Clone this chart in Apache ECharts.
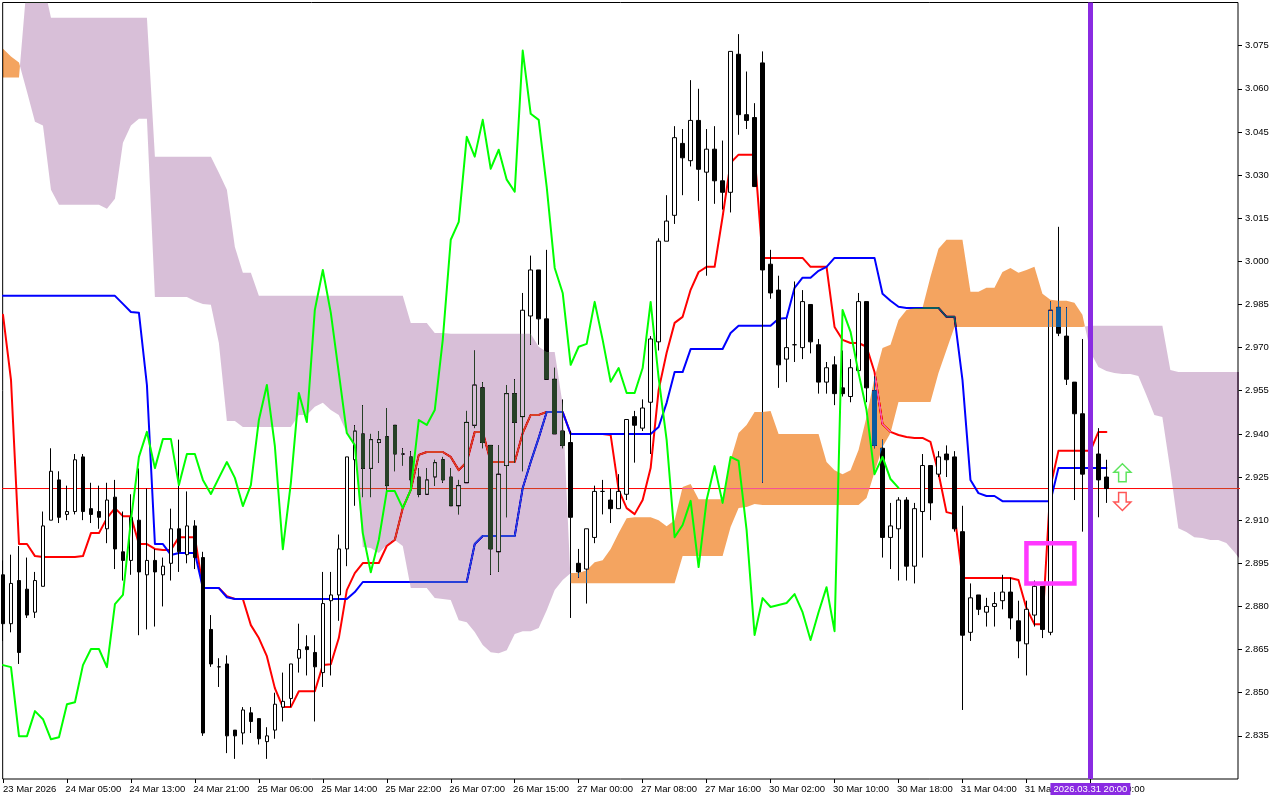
<!DOCTYPE html>
<html>
<head>
<meta charset="utf-8">
<style>html,body{margin:0;padding:0;background:#fff}#c{width:1280px;height:800px}</style>
<script src="https://cdn.jsdelivr.net/npm/echarts@6/dist/echarts.min.js"></script>
</head>
<body>
<div id="c"></div>
<script>
const timeLabels = ['23 Mar 2026','24 Mar 05:00','24 Mar 13:00','24 Mar 21:00','25 Mar 06:00','25 Mar 14:00','25 Mar 22:00','26 Mar 07:00','26 Mar 15:00','27 Mar 00:00','27 Mar 08:00','27 Mar 16:00','30 Mar 02:00','30 Mar 10:00','30 Mar 18:00','31 Mar 04:00','31 Mar 12:00','31 Mar 20:00'];
const labelBars = [0,8,16,24,32,40,48,56,64,72,80,88,96,104,112,120,128,136];
const priceTicks = [2.835,2.85,2.865,2.88,2.895,2.91,2.925,2.94,2.955,2.97,2.985,3,3.015,3.03,3.045,3.06,3.075];
const lastPrice = 2.921;
const markerBar = 136;
const markerLabel = '2026.03.31 20:00';
const boxBars = [128,134];
const boxPrices = [2.902,2.888];
const arrowBar = 140;
const arrowUpPrice = 2.9265;
const arrowDownPrice = 2.9165;

const open = [
2.891,2.874,2.889,2.886,2.878,2.887,2.910,2.924,2.912,2.913,
2.932,2.914,2.913,2.907,2.918,2.899,2.896,2.910,2.891,2.896,
2.891,2.895,2.907,2.898,2.908,2.897,2.872,2.859,2.860,2.837,
2.836,2.843,2.841,2.833,2.837,2.845,2.848,2.862,2.866,2.864,
2.857,2.882,2.884,2.900,2.931,2.940,2.928,2.937,2.939,2.943,
2.933,2.932,2.925,2.919,2.925,2.931,2.925,2.915,2.923,2.943,
2.956,2.936,2.899,2.929,2.954,2.946,2.981,2.997,2.980,2.959,
2.941,2.937,2.895,2.893,2.904,2.920,2.917,2.914,2.919,2.946,
2.942,2.951,2.972,3.007,3.016,3.041,3.035,3.049,3.031,3.039,
3.028,3.024,3.072,3.051,3.050,3.069,2.999,2.990,2.966,2.971,
2.970,2.985,2.971,2.958,2.964,2.956,2.953,2.962,2.986,2.955,
2.935,2.904,2.907,2.917,2.894,2.913,2.929,2.926,2.933,2.932,
2.906,2.871,2.884,2.878,2.880,2.882,2.885,2.875,2.867,2.877,
2.887,2.871,2.984,2.974,2.958,2.947,2.926,2.933,2.925];
const close = [
2.874,2.888,2.864,2.877,2.889,2.908,2.927,2.911,2.913,2.931,
2.913,2.912,2.911,2.917,2.900,2.896,2.911,2.892,2.896,2.892,
2.894,2.907,2.899,2.908,2.897,2.836,2.860,2.859,2.835,2.835,
2.844,2.840,2.834,2.835,2.846,2.847,2.860,2.865,2.865,2.859,
2.881,2.884,2.900,2.932,2.941,2.928,2.938,2.938,2.922,2.933,
2.933,2.924,2.919,2.924,2.930,2.924,2.915,2.922,2.944,2.957,
2.937,2.900,2.926,2.954,2.944,2.983,2.997,2.980,2.959,2.940,
2.936,2.911,2.892,2.907,2.920,2.920,2.914,2.920,2.945,2.943,
2.949,2.973,3.007,3.014,3.043,3.036,3.049,3.032,3.039,3.028,
3.024,3.073,3.051,3.049,3.026,2.997,2.989,2.964,2.970,2.971,
2.986,2.972,2.958,2.963,2.954,2.954,2.963,2.986,2.956,2.936,
2.904,2.908,2.917,2.894,2.914,2.929,2.916,2.932,2.931,2.907,
2.870,2.883,2.879,2.880,2.881,2.885,2.876,2.868,2.879,2.887,
2.872,2.983,2.975,2.959,2.947,2.926,2.932,2.924,2.921];
const low = [
2.868,2.871,2.860,2.876,2.876,2.887,2.910,2.909,2.910,2.912,
2.910,2.909,2.907,2.902,2.893,2.889,2.891,2.870,2.872,2.873,
2.880,2.889,2.892,2.895,2.893,2.835,2.859,2.852,2.829,2.827,
2.832,2.836,2.832,2.827,2.834,2.840,2.845,2.857,2.856,2.840,
2.852,2.856,2.875,2.894,2.915,2.918,2.918,2.930,2.920,2.927,
2.929,2.920,2.918,2.919,2.922,2.923,2.915,2.912,2.923,2.942,
2.935,2.891,2.892,2.911,2.930,2.927,2.971,2.971,2.959,2.940,
2.935,2.876,2.890,2.881,2.902,2.912,2.909,2.914,2.917,2.930,
2.941,2.933,2.969,3.007,3.013,3.023,3.033,3.021,2.995,3.020,
3.018,3.017,3.044,3.046,3.026,2.923,2.987,2.956,2.958,2.965,
2.966,2.968,2.954,2.954,2.950,2.953,2.951,2.962,2.951,2.935,
2.897,2.893,2.889,2.889,2.888,2.897,2.910,2.925,2.925,2.906,
2.844,2.868,2.877,2.873,2.873,2.879,2.872,2.862,2.856,2.873,
2.869,2.870,2.974,2.957,2.917,2.906,2.920,2.911,2.916];
const high = [
2.896,2.898,2.901,2.897,2.892,2.913,2.935,2.927,2.922,2.933,
2.933,2.923,2.922,2.923,2.924,2.913,2.919,2.928,2.921,2.900,
2.897,2.914,2.938,2.920,2.910,2.899,2.877,2.862,2.863,2.837,
2.845,2.845,2.841,2.838,2.850,2.857,2.860,2.874,2.870,2.870,
2.892,2.892,2.905,2.932,2.943,2.950,2.940,2.941,2.949,2.943,
2.935,2.934,2.928,2.928,2.931,2.932,2.928,2.924,2.948,2.969,
2.958,2.936,2.936,2.957,2.959,2.989,3.002,2.997,3.004,2.963,
2.952,2.941,2.900,2.907,2.922,2.924,2.921,2.926,2.945,2.948,
2.952,2.974,3.008,3.023,3.047,3.046,3.063,3.060,3.046,3.047,
3.042,3.073,3.079,3.066,3.055,3.073,3.004,2.995,2.980,2.993,
2.990,2.985,2.973,2.965,2.967,2.969,2.966,2.989,2.986,2.960,
2.938,2.916,2.918,2.918,2.916,2.933,2.929,2.934,2.936,2.934,
2.915,2.888,2.884,2.883,2.885,2.891,2.890,2.882,2.882,2.889,
2.887,2.986,3.012,2.984,2.958,2.973,2.936,2.942,2.931];

const tenkan = [
2.9814,2.9588,2.9017,2.9017,2.8975,2.8972,2.8972,2.8972,2.8972,2.8972,
2.8975,2.9055,2.9055,2.9107,2.9142,2.9114,2.9114,2.9017,2.9017,2.9000,
2.8996,2.8996,2.9041,2.9041,2.9041,2.8864,2.8864,2.8864,2.8836,2.8826,
2.8826,2.8735,2.8690,2.8627,2.8516,2.8450,2.8450,2.8505,2.8505,2.8505,
2.8596,2.8599,2.8690,2.8857,2.8916,2.8951,2.8951,2.8951,2.9010,2.9031,
2.9142,2.9205,2.9327,2.9337,2.9337,2.9337,2.9320,2.9274,2.9302,2.9407,
2.9407,2.9302,2.9302,2.9302,2.9302,2.9403,2.9466,2.9466,2.9476,2.9476,
2.9476,2.9400,2.9400,2.9400,2.9400,2.9400,2.9396,2.9205,2.9142,2.9121,
2.9170,2.9281,2.9553,2.9682,2.9786,2.9807,2.9901,2.9963,2.9981,2.9981,
3.0155,3.0343,3.0371,3.0371,3.0371,3.0012,3.0012,3.0012,3.0012,3.0012,
3.0012,2.9981,2.9981,2.9981,2.9772,2.9727,2.9716,2.9716,2.9703,2.9615,
2.9434,2.9407,2.9396,2.9389,2.9386,2.9386,2.9372,2.9264,2.9128,2.9121,
2.8899,2.8899,2.8899,2.8899,2.8899,2.8899,2.8899,2.8892,2.8794,2.8738,
2.8738,2.9215,2.9341,2.9341,2.9341,2.9341,2.9341,2.9407,2.9407];
const kijun = [
2.9880,2.9880,2.9880,2.9880,2.9880,2.9880,2.9880,2.9880,2.9880,2.9880,
2.9880,2.9880,2.9880,2.9880,2.9880,2.9852,2.9824,2.9821,2.9570,2.9017,
2.9017,2.8979,2.8986,2.8986,2.8986,2.8864,2.8864,2.8864,2.8832,2.8826,
2.8826,2.8826,2.8826,2.8826,2.8826,2.8826,2.8826,2.8826,2.8826,2.8826,
2.8826,2.8826,2.8826,2.8826,2.8850,2.8885,2.8885,2.8885,2.8885,2.8885,
2.8885,2.8885,2.8885,2.8885,2.8885,2.8885,2.8885,2.8885,2.8885,2.9017,
2.9045,2.9045,2.9045,2.9045,2.9045,2.9212,2.9302,2.9386,2.9476,2.9476,
2.9476,2.9400,2.9400,2.9400,2.9400,2.9400,2.9400,2.9400,2.9400,2.9400,
2.9400,2.9400,2.9424,2.9508,2.9615,2.9615,2.9695,2.9695,2.9695,2.9695,
2.9695,2.9751,2.9776,2.9776,2.9776,2.9776,2.9776,2.9800,2.9803,2.9908,
2.9943,2.9943,2.9967,2.9981,3.0012,3.0012,3.0012,3.0012,3.0012,3.0012,
2.9887,2.9863,2.9842,2.9838,2.9838,2.9838,2.9838,2.9838,2.9807,2.9807,
2.9588,2.9240,2.9194,2.9184,2.9184,2.9166,2.9166,2.9166,2.9166,2.9166,
2.9166,2.9166,2.9281,2.9281,2.9281,2.9281,2.9281,2.9281,2.9281];
const chikou = [
2.8596,2.8589,2.8349,2.8349,2.8436,2.8408,2.8338,2.8345,2.8460,2.8467,
2.8596,2.8652,2.8652,2.8589,2.8808,2.8840,2.9100,2.9320,2.9407,2.9281,
2.9382,2.9382,2.9222,2.9330,2.9330,2.9240,2.9191,2.9247,2.9302,2.9247,
2.9149,2.9222,2.9448,2.9570,2.9358,2.8999,2.9229,2.9542,2.9441,2.9831,
2.9970,2.9821,2.9612,2.9403,2.9361,2.9055,2.8919,2.9031,2.9201,2.9201,
2.9142,2.9205,2.9448,2.9431,2.9483,2.9727,3.0075,3.0137,3.0433,3.0364,
3.0492,3.0322,3.0388,3.0284,3.0242,3.0733,3.0513,3.0492,3.0259,2.9977,
2.9890,2.9640,2.9703,2.9713,2.9859,2.9727,2.9581,2.9629,2.9542,2.9542,
2.9629,2.9859,2.9595,2.9379,2.9041,2.9083,2.9167,2.8937,2.9170,2.9288,
2.9160,2.9320,2.9306,2.9066,2.8701,2.8829,2.8798,2.8805,2.8812,2.8843,
2.8780,2.8683,2.8780,2.8867,2.8714,2.9831,2.9755,2.9612,2.9483,2.9260,
2.9320,2.9243,2.9212];
const spanA = [
3.0739,3.0712,3.0691,3.0590,3.0485,3.0472,3.0249,3.0197,3.0197,3.0197,
3.0197,3.0197,3.0197,3.0183,3.0218,3.0412,3.0472,3.0496,3.0496,2.9876,
2.9876,2.9876,2.9876,2.9876,2.9862,2.9852,2.9849,2.9716,2.9445,2.9445,
2.9424,2.9424,2.9424,2.9424,2.9424,2.9424,2.9424,2.9466,2.9466,2.9494,
2.9508,2.9483,2.9466,2.9403,2.9361,2.9007,2.9003,2.8986,2.9014,2.9031,
2.9010,2.8864,2.8864,2.8864,2.8829,2.8826,2.8822,2.8752,2.8745,2.8711,
2.8666,2.8641,2.8637,2.8648,2.8704,2.8714,2.8714,2.8725,2.8787,2.8857,
2.8892,2.8916,2.8916,2.8926,2.8954,2.8961,2.9000,2.9055,2.9107,2.9110,
2.9110,2.9110,2.9100,2.9079,2.9100,2.9215,2.9226,2.9173,2.9173,2.9173,
2.9173,2.9309,2.9403,2.9431,2.9476,2.9476,2.9480,2.9400,2.9400,2.9400,
2.9400,2.9400,2.9400,2.9302,2.9274,2.9260,2.9274,2.9344,2.9459,2.9595,
2.9699,2.9710,2.9796,2.9831,2.9838,2.9838,2.9946,3.0044,3.0075,3.0075,
3.0075,2.9894,2.9894,2.9908,2.9908,2.9963,2.9977,2.9960,2.9970,2.9981,
2.9887,2.9866,2.9863,2.9863,2.9856,2.9814,2.9685,2.9633,2.9619,2.9612,
2.9608,2.9608,2.9601,2.9535,2.9466,2.9459,2.9274,2.9072,2.9059,2.9041,
2.9038,2.9031,2.9031,2.9021,2.8989,2.8954];
const spanB = [
3.0639,3.0639,3.0639,3.0973,3.0973,3.0973,3.0847,3.0847,3.0847,3.0847,
3.0847,3.0847,3.0847,3.0847,3.0847,3.0847,3.0847,3.0847,3.0847,3.0364,
3.0364,3.0364,3.0364,3.0364,3.0364,3.0364,3.0364,3.0308,3.0249,3.0050,
2.9960,2.9960,2.9880,2.9880,2.9880,2.9880,2.9880,2.9880,2.9880,2.9880,
2.9880,2.9880,2.9880,2.9880,2.9880,2.9880,2.9880,2.9880,2.9880,2.9880,
2.9880,2.9786,2.9786,2.9786,2.9751,2.9751,2.9748,2.9748,2.9748,2.9748,
2.9748,2.9748,2.9748,2.9748,2.9748,2.9748,2.9748,2.9703,2.9685,2.9685,
2.9501,2.8881,2.8881,2.8881,2.8881,2.8881,2.8881,2.8881,2.8881,2.8881,
2.8881,2.8881,2.8881,2.8881,2.8881,2.8975,2.8975,2.8975,2.8975,2.8975,
2.8975,2.9076,2.9142,2.9146,2.9156,2.9153,2.9153,2.9153,2.9153,2.9153,
2.9153,2.9153,2.9153,2.9153,2.9153,2.9153,2.9153,2.9153,2.9177,2.9267,
2.9354,2.9403,2.9511,2.9511,2.9511,2.9511,2.9511,2.9612,2.9692,2.9772,
2.9772,2.9772,2.9772,2.9772,2.9772,2.9772,2.9772,2.9772,2.9772,2.9772,
2.9772,2.9772,2.9772,2.9772,2.9772,2.9772,2.9776,2.9776,2.9776,2.9776,
2.9776,2.9776,2.9776,2.9776,2.9776,2.9776,2.9622,2.9615,2.9615,2.9615,
2.9615,2.9615,2.9615,2.9615,2.9615,2.9615];

// Colours are XOR partners: over white they give thistle / sandy brown, as the terminal paints its cloud.
const CLOUD_UP = '#0B5B9F', CLOUD_DOWN = '#274027';

function cloudRuns() {
  const runs = [];
  let cur = null;
  for (let i = 0; i < spanA.length; i++) {
    const up = spanA[i] >= spanB[i];
    if (!cur) {
      cur = {up, pts: [[i, spanA[i], spanB[i]]]};
      runs.push(cur);
    } else if (cur.up !== up) {
      const d0 = spanA[i-1] - spanB[i-1], d1 = spanA[i] - spanB[i];
      const t = d0 / (d0 - d1);
      const v = spanA[i-1] + (spanA[i] - spanA[i-1]) * t;
      cur.pts.push([i - 1 + t, v, v]);
      cur = {up, pts: [[i - 1 + t, v, v], [i, spanA[i], spanB[i]]]};
      runs.push(cur);
    } else {
      cur.pts.push([i, spanA[i], spanB[i]]);
    }
  }
  return runs;
}
const runs = cloudRuns();

const seq = a => a.map((v, i) => [i, v]);
const lineSeries = (name, data, color, z, extra) => Object.assign({
  name, type: 'line', data: seq(data), z, symbol: 'none', showSymbol: false, silent: true,
  lineStyle: {color, width: 2, cap: 'round', join: 'round'}, animation: false, clip: true
}, extra || {});

const UP_ARROW = 'path://M9 0 L18 9 L13 9 L13 19 L5 19 L5 9 L0 9 Z';
const DOWN_ARROW = 'path://M5 0 L13 0 L13 10 L18 10 L9 19 L0 10 L5 10 Z';

const chart = echarts.init(document.getElementById('c'), null, {renderer: 'canvas', width: 1280, height: 800});
chart.setOption({
  animation: false,
  backgroundColor: '#ffffff',
  textStyle: {fontFamily: '"Liberation Sans", Arial, sans-serif'},
  grid: {left: 2, right: 42, top: 2.5, bottom: 21, show: true, borderColor: '#000', borderWidth: 1, backgroundColor: 'transparent'},
  xAxis: {
    type: 'value', min: -0.04, max: 154.46, splitLine: {show: false},
    axisLine: {show: false, onZero: false},
    axisTick: {show: true, length: 4, lineStyle: {color: '#000'}, customValues: labelBars},
    axisLabel: {
      show: true, customValues: labelBars.map(b => b === 0 ? 0 : b - 0.2), align: 'left', margin: 5, color: '#000', fontSize: 9.5,
      formatter: v => timeLabels[Math.round(v / 8)] || ''
    }
  },
  yAxis: {
    type: 'value', position: 'right', min: 2.82, max: 3.09, interval: 0.015, scale: true,
    splitLine: {show: false}, axisLine: {show: false, onZero: false},
    axisTick: {show: true, length: 4, lineStyle: {color: '#000'}, customValues: priceTicks},
    axisLabel: {show: true, customValues: priceTicks, margin: 7, color: '#000', fontSize: 9.5, formatter: v => v.toFixed(3)}
  },
  series: [
    {
      name: 'Price', type: 'candlestick', z: 2, silent: true, barWidth: 4, animation: false,
      encode: {x: 0, y: [1, 2, 3, 4]},
      data: open.map((o, i) => [i, o, close[i], low[i], high[i]]),
      itemStyle: {color: '#ffffff', color0: '#000000', borderColor: '#000000', borderColor0: '#000000', borderWidth: 1}
    },
    {
      name: 'Last', type: 'line', z: 2, silent: true, animation: false, symbol: 'none', showSymbol: false, clip: true,
      data: [[-1, lastPrice], [156, lastPrice]],
      lineStyle: {color: '#FF0000', width: 1}
    },
    lineSeries('Tenkan', tenkan, '#FF0000', 2),
    lineSeries('Kijun', kijun, '#0000FF', 2),
    {
      name: 'Cloud', type: 'custom', z: 3, silent: true, clip: true, animation: false, blendMode: 'difference',
      encode: {x: 0, y: 1},
      data: runs.map((r, k) => [r.pts[0][0], r.pts[0][1], k]),
      renderItem: (params, api) => {
        const r = runs[api.value(2)];
        const top = r.pts.map(p => api.coord([p[0], p[1]]));
        const bot = r.pts.slice().reverse().map(p => api.coord([p[0], p[2]]));
        return {
          type: 'polygon', shape: {points: top.concat(bot)},
          style: {fill: r.up ? CLOUD_UP : CLOUD_DOWN, stroke: null}
        };
      }
    },
    lineSeries('Chikou', chikou, '#00FF00', 4, {
      markLine: {
        silent: true, symbol: 'none', z: 6, animation: false,
        lineStyle: {color: '#8A2BE2', width: 5, type: 'solid'},
        label: {show: true, position: 'start', distance: 4, formatter: markerLabel, color: '#fff', backgroundColor: '#8A2BE2', padding: [1, 3, 1, 3], fontSize: 9.5},
        data: [{xAxis: markerBar}]
      },
      markArea: {
        silent: true, z: 6, animation: false,
        itemStyle: {color: 'transparent', borderColor: '#FF38FF', borderWidth: 4.5},
        data: [[{xAxis: boxBars[0], yAxis: boxPrices[0]}, {xAxis: boxBars[1], yAxis: boxPrices[1]}]]
      }
    }),
    {
      name: 'LastLabel', type: 'line', z: 7, silent: true, animation: false, symbol: 'none', showSymbol: false,
      data: [],
      markLine: {
        silent: true, symbol: 'none', z: 7, animation: false,
        lineStyle: {opacity: 0},
        label: {show: true, position: 'end', distance: 2, formatter: () => lastPrice.toFixed(3), color: '#fff', backgroundColor: '#C80000', padding: [1, 4, 1, 4], fontSize: 9.5},
        data: [{yAxis: lastPrice}]
      }
    },
    {
      name: 'Buy', type: 'scatter', z: 7, silent: true, animation: false,
      data: [[arrowBar, arrowUpPrice]], symbol: UP_ARROW, symbolSize: [17, 18],
      itemStyle: {color: '#ffffff', borderColor: '#33DD33', borderWidth: 1.5}
    },
    {
      name: 'Sell', type: 'scatter', z: 7, silent: true, animation: false,
      data: [[arrowBar, arrowDownPrice]], symbol: DOWN_ARROW, symbolSize: [17, 18],
      itemStyle: {color: '#ffffff', borderColor: '#FF2A2A', borderWidth: 1.5}
    }
  ]
});
</script>
</body>
</html>
